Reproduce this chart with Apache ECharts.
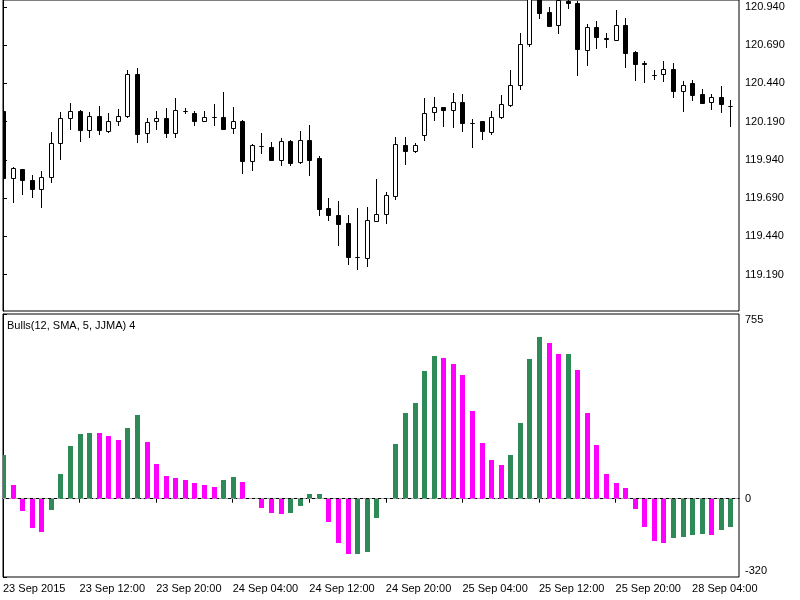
<!DOCTYPE html>
<html>
<head>
<meta charset="utf-8">
<script src="https://cdn.jsdelivr.net/npm/echarts@6/dist/echarts.min.js"></script>
<style>html,body{margin:0;padding:0;background:#fff;}#c{width:800px;height:600px;}</style>
</head>
<body>
<div id="c"></div>
<script>
// ---- data ----
const categories = [
 '23 Sep 04:00','23 Sep 05:00','23 Sep 06:00','23 Sep 07:00','23 Sep 08:00','23 Sep 09:00','23 Sep 10:00','23 Sep 11:00',
 '23 Sep 12:00','23 Sep 13:00','23 Sep 14:00','23 Sep 15:00','23 Sep 16:00','23 Sep 17:00','23 Sep 18:00','23 Sep 19:00',
 '23 Sep 20:00','23 Sep 21:00','23 Sep 22:00','23 Sep 23:00','24 Sep 00:00','24 Sep 01:00','24 Sep 02:00','24 Sep 03:00',
 '24 Sep 04:00','24 Sep 05:00','24 Sep 06:00','24 Sep 07:00','24 Sep 08:00','24 Sep 09:00','24 Sep 10:00','24 Sep 11:00',
 '24 Sep 12:00','24 Sep 13:00','24 Sep 14:00','24 Sep 15:00','24 Sep 16:00','24 Sep 17:00','24 Sep 18:00','24 Sep 19:00',
 '24 Sep 20:00','24 Sep 21:00','24 Sep 22:00','24 Sep 23:00','25 Sep 00:00','25 Sep 01:00','25 Sep 02:00','25 Sep 03:00',
 '25 Sep 04:00','25 Sep 05:00','25 Sep 06:00','25 Sep 07:00','25 Sep 08:00','25 Sep 09:00','25 Sep 10:00','25 Sep 11:00',
 '25 Sep 12:00','25 Sep 13:00','25 Sep 14:00','25 Sep 15:00','25 Sep 16:00','25 Sep 17:00','25 Sep 18:00','25 Sep 19:00',
 '25 Sep 20:00','25 Sep 21:00','25 Sep 22:00','25 Sep 23:00','28 Sep 00:00','28 Sep 01:00','28 Sep 02:00','28 Sep 03:00',
 '28 Sep 04:00','28 Sep 05:00','28 Sep 06:00','28 Sep 07:00','28 Sep 08:00'
];
const firstLabel = '23 Sep 2015';

const open = [
 120.262,119.823,119.881,119.810,119.751,119.827,120.048,120.214,120.262,120.136,
 120.229,120.131,120.192,120.229,120.501,120.116,120.194,120.214,120.116,120.262,
 120.247,120.194,120.222,120.218,120.149,120.196,119.935,120.033,120.027,119.942,
 120.061,119.924,120.072,119.951,119.624,119.581,119.529,119.305,119.298,119.540,
 119.588,119.703,120.040,120.001,120.103,120.251,120.283,120.266,120.316,120.179,
 120.192,120.125,120.218,120.301,120.431,120.697,120.999,120.909,120.821,120.979,
 120.968,120.658,120.809,120.736,120.725,120.823,120.646,120.575,120.496,120.501,
 120.534,120.392,120.440,120.371,120.316,120.353,120.294
];
const close = [
 119.823,119.888,119.805,119.751,119.831,120.048,120.214,120.257,120.138,120.229,
 120.136,120.194,120.229,120.501,120.110,120.190,120.214,120.116,120.266,120.260,
 120.192,120.218,120.220,120.142,120.196,119.935,120.038,120.031,119.942,120.061,
 119.921,120.072,119.942,119.616,119.577,119.523,119.305,119.303,119.544,119.588,
 119.707,120.044,120.001,120.040,120.244,120.283,120.266,120.316,120.179,120.180,
 120.127,120.222,120.305,120.431,120.697,120.999,120.903,120.816,120.986,120.966,
 120.664,120.809,120.744,120.734,120.823,120.642,120.566,120.565,120.495,120.534,
 120.392,120.429,120.364,120.312,120.353,120.305,120.293
];
const low = [
 119.820,119.655,119.707,119.690,119.627,119.787,119.942,120.138,120.059,120.084,
 120.105,120.116,120.164,120.214,120.048,120.048,120.138,120.084,120.084,120.240,
 120.162,120.194,120.164,120.138,120.110,119.849,119.866,119.979,119.935,119.903,
 119.903,119.914,119.833,119.570,119.538,119.375,119.251,119.218,119.240,119.533,
 119.523,119.675,119.907,119.983,120.066,120.196,120.157,120.149,120.120,120.018,
 120.071,120.103,120.207,120.288,120.397,120.679,120.860,120.809,120.762,120.925,
 120.490,120.555,120.664,120.674,120.718,120.544,120.457,120.446,120.462,120.451,
 120.348,120.251,120.327,120.305,120.266,120.247,120.153
];
const high = [
 120.265,119.896,119.883,119.838,119.870,120.120,120.251,120.309,120.268,120.251,
 120.294,120.247,120.273,120.527,120.544,120.214,120.262,120.277,120.348,120.277,
 120.262,120.257,120.305,120.387,120.283,120.203,120.046,120.114,120.055,120.084,
 120.069,120.127,120.170,119.968,119.692,119.668,119.581,119.627,119.631,119.816,
 119.729,120.088,120.088,120.053,120.344,120.353,120.288,120.379,120.371,120.207,
 120.196,120.262,120.364,120.527,120.768,121.044,121.018,120.942,121.012,121.018,
 120.979,120.831,120.849,120.772,120.918,120.866,120.653,120.588,120.527,120.588,
 120.577,120.457,120.462,120.403,120.371,120.425,120.333
];
const bulls = [
 180, 55, -49, -118, -137, -45, 103, 216, 265, 269,
 268, 256, 241, 290, 343, 231, 142, 94, 83, 78,
 64, 55, 49, 78, 87, 68, 0, -38, -59, -63,
 -59, -29, 19, 20, -97, -182, -227, -226, -216, -79,
 0, 222, 349, 393, 521, 584, 574, 550, 506, 358,
 226, 157, 137, 178, 311, 570, 663, 635, 590, 592,
 527, 349, 218, 99, 64, 44, -41, -116, -171, -182,
 -161, -157, -149, -146, -149, -127, -114
];
const priceTicks = [119.190, 119.440, 119.690, 119.940, 120.190, 120.440, 120.690, 120.940];
const bullsTicks = [-320, 0, 755];
const indicatorTitle = 'Bulls(12, SMA, 5, JJMA) 4';

// ---- build ----
const FONT = 'Liberation Sans';
const candleData = open.map((o, i) => [i, o, close[i], low[i], high[i]]);
const histData = bulls.map((v, i) => [i, v, (i === 0 || v > bulls[i - 1]) ? 1 : 0]);
const timeTickIdx = categories.map((c, i) => i).filter(i => i % 8 === 0);

function renderCandle(params, api) {
  const i = api.value(0);
  const o = api.value(1), c = api.value(2), l = api.value(3), h = api.value(4);
  const pO = api.coord([i, o]), pC = api.coord([i, c]);
  const pL = api.coord([i, l]), pH = api.coord([i, h]);
  const cx = Math.round(pO[0]) + 0.5;
  const top = Math.round(Math.min(pO[1], pC[1])) + 0.5;
  const bot = Math.round(Math.max(pO[1], pC[1])) + 0.5;
  const bull = c >= o;
  return {
    type: 'group',
    children: [
      { type: 'line', shape: { x1: cx, y1: Math.round(pH[1]), x2: cx, y2: Math.round(pL[1]) },
        style: { stroke: '#000', lineWidth: 1 } },
      { type: 'rect', shape: { x: cx - 2, y: top, width: 4, height: bot - top },
        style: { fill: bull ? '#fff' : '#000', stroke: '#000', lineWidth: 1 } }
    ]
  };
}
function renderHist(params, api) {
  const i = api.value(0), v = api.value(1), up = api.value(2);
  const p0 = api.coord([i, 0]), p1 = api.coord([i, v]);
  const cx = Math.round(p0[0]);
  const y0 = Math.round(p0[1]), y1 = Math.round(p1[1]);
  return {
    type: 'rect',
    shape: { x: cx - 2, y: Math.min(y0, y1), width: 5, height: Math.abs(y1 - y0) },
    style: { fill: up ? '#2E8B57' : '#FF00FF' }
  };
}

const chart = echarts.init(document.getElementById('c'), null, { renderer: 'canvas' });
chart.setOption({
  animation: false,
  backgroundColor: '#fff',
  textStyle: { fontFamily: FONT },
  title: {
    text: indicatorTitle, left: 7, top: 320, padding: 0,
    textStyle: { fontFamily: FONT, fontSize: 11, fontWeight: 'normal', color: '#000' }
  },
  grid: [
    { left: 3, right: 61, top: -1, height: 312, show: true, borderColor: '#000', borderWidth: 1, backgroundColor: '#fff' },
    { left: 3, right: 61, top: 314, bottom: 23, show: true, borderColor: '#000', borderWidth: 1, backgroundColor: '#fff' }
  ],
  xAxis: [
    { type: 'value', gridIndex: 0, min: 0, max: 76.9, show: false },
    { type: 'value', gridIndex: 1, min: 0, max: 76.9,
      axisLine: { show: true, lineStyle: { color: '#000' } },
      axisTick: { show: true, length: 4, lineStyle: { color: '#000' }, customValues: timeTickIdx },
      splitLine: { show: false },
      axisLabel: {
        customValues: timeTickIdx, align: 'left', margin: 6, color: '#000',
        fontFamily: FONT, fontSize: 11,
        formatter: v => (v === 0 ? firstLabel : categories[v])
      }
    }
  ],
  yAxis: [
    { type: 'value', gridIndex: 0, position: 'right', min: 118.951, max: 120.986,
      axisLine: { show: true, lineStyle: { color: '#000' } },
      axisTick: { show: true, length: 4, lineStyle: { color: '#000' }, customValues: priceTicks },
      splitLine: { show: false },
      axisLabel: { customValues: priceTicks, margin: 6, color: '#000', fontFamily: FONT, fontSize: 11,
        formatter: v => v.toFixed(3) }
    },
    { type: 'value', gridIndex: 1, position: 'right', min: -320, max: 755,
      axisLine: { show: true, lineStyle: { color: '#000' } },
      axisTick: { show: true, length: 4, lineStyle: { color: '#000' }, customValues: bullsTicks },
      splitLine: { show: false },
      axisLabel: { customValues: bullsTicks, margin: 6, color: '#000', fontFamily: FONT, fontSize: 11,
        formatter: v => (v === 755 ? '{t|755}' : (v === -320 ? '{b|-320}' : String(v))),
        rich: { t: { padding: [12, 0, 0, 0], fontSize: 11, fontFamily: FONT, color: '#000' },
                b: { padding: [0, 0, 12, 0], fontSize: 11, fontFamily: FONT, color: '#000' } }
      }
    }
  ],
  series: [
    { type: 'custom', name: 'price', xAxisIndex: 0, yAxisIndex: 0, clip: true,
      renderItem: renderCandle, data: candleData, encode: { x: 0, y: [1, 2, 3, 4] } },
    { type: 'custom', name: 'bulls', xAxisIndex: 1, yAxisIndex: 1, clip: true,
      renderItem: renderHist, data: histData, encode: { x: 0, y: 1 },
      markLine: { silent: true, symbol: ['none', 'none'], label: { show: false },
        lineStyle: { color: '#a0a0a0', type: [3, 3], width: 1 }, data: [{ yAxis: 0 }] } }
  ]
});
</script>
</body>
</html>
